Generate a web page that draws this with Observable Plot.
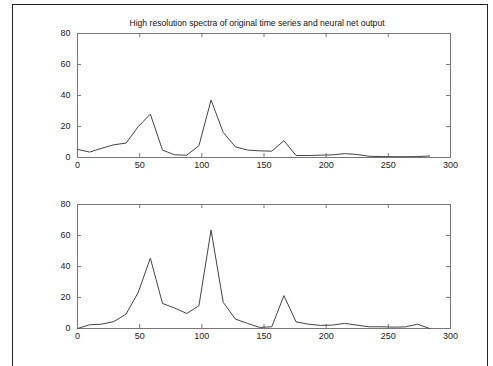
<!DOCTYPE html>
<html>
<head>
<meta charset="utf-8">
<script src="https://cdn.jsdelivr.net/npm/d3@7"></script>
<script src="https://cdn.jsdelivr.net/npm/@observablehq/plot@0.6"></script>
<style>
  html, body { margin: 0; padding: 0; background: #fff; }
  #wrap { position: relative; width: 493px; height: 366px; overflow: hidden; background: #fff; font-family: "Liberation Sans", Arial, sans-serif; }
  #border { position: absolute; left: 12px; top: 4px; width: 474px; height: 420px; border: 1px solid #222; }
  #title { position: absolute; left: 0; top: 18px; width: 514px; text-align: center; font-size: 8.6px; color: #111; }
  .panel { position: absolute; left: 0; }
</style>
</head>
<body>
<div id="wrap">
  <div id="border"></div>
  <div id="title">High resolution spectra of original time series and neural net output</div>
  <div id="p1" class="panel" style="top:0px"></div>
  <div id="p2" class="panel" style="top:183px"></div>
</div>
<script>
// Frequency bins (x)
const freq = [0, 9.77, 19.53, 29.3, 39.06, 48.83, 58.59, 68.36, 78.13, 87.89, 97.66, 107.42, 117.19, 126.95, 136.72, 146.48, 156.25, 166.02, 175.78, 185.55, 195.31, 205.08, 214.84, 224.61, 234.38, 244.14, 253.91, 263.67, 273.44, 283.2];
// Spectrum of original time series (top panel)
const originalSpec = [5.2, 3.5, 6.0, 8.2, 9.3, 19.9, 28.0, 4.8, 1.7, 1.5, 7.6, 37.1, 16.2, 6.9, 4.8, 4.3, 4.1, 10.8, 1.3, 1.3, 1.5, 1.7, 2.5, 2.0, 0.8, 0.6, 0.5, 0.5, 0.6, 1.0];
// Spectrum of neural net output (bottom panel)
const netSpec = [0, 2.4, 2.8, 4.5, 9.3, 23.3, 45.4, 16.2, 13.2, 9.7, 14.7, 63.5, 16.9, 6.1, 3.3, 0.7, 1.1, 21.2, 4.3, 2.8, 2.0, 2.2, 3.3, 2.2, 1.1, 1.1, 0.9, 1.0, 2.8, 0];
// Tick labels
const xTicks = [0, 50, 100, 150, 200, 250, 300];
const yTicks = [0, 20, 40, 60, 80];

function panel(values, mt, mb) {
  const H = 183, W = 493, ml = 77, mr = 43;
  const fh = H - mt - mb, fw = W - ml - mr, tl = 4;
  const data = freq.map((f, i) => ({f, v: values[i]}));
  return Plot.plot({
    width: W, height: H,
    marginLeft: ml, marginRight: mr, marginTop: mt, marginBottom: mb,
    style: {background: "transparent", fontSize: "9px", fontFamily: "'Liberation Sans', Arial, sans-serif", color: "#222"},
    x: {domain: [0, 300]},
    y: {domain: [0, 80]},
    marks: [
      Plot.frame({stroke: "#777"}),
      Plot.tickX(xTicks, {x: d => d, insetTop: fh - tl, stroke: "#777"}),
      Plot.tickX(xTicks, {x: d => d, insetBottom: fh - tl, stroke: "#777"}),
      Plot.tickY(yTicks, {y: d => d, insetRight: fw - tl, stroke: "#777"}),
      Plot.tickY(yTicks, {y: d => d, insetLeft: fw - tl, stroke: "#777"}),
      Plot.axisX({ticks: xTicks, tickSize: 0, tickPadding: 4, label: null}),
      Plot.axisY({ticks: yTicks, tickSize: 0, tickPadding: 7, label: null}),
      Plot.line(data, {x: "f", y: "v", stroke: "#444", strokeWidth: 1})
    ]
  });
}
document.getElementById("p1").appendChild(panel(originalSpec, 33, 26));
document.getElementById("p2").appendChild(panel(netSpec, 21, 38));
</script>
</body>
</html>
